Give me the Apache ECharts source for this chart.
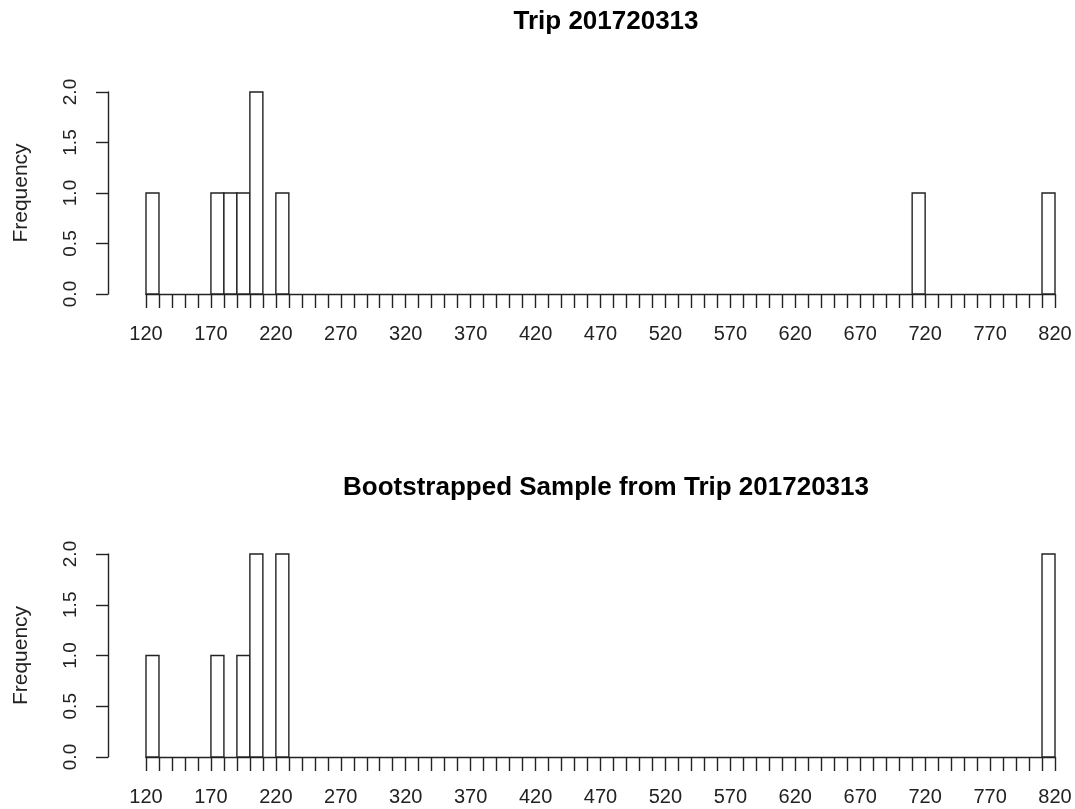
<!DOCTYPE html>
<html>
<head>
<meta charset="utf-8">
<style>
  html, body { margin: 0; padding: 0; background: #fff; }
  #chart { width: 1075px; height: 809px; }
</style>
<script src="https://cdn.jsdelivr.net/npm/echarts@6/dist/echarts.min.js"></script>
</head>
<body>
<div id="chart"></div>
<script>
// bins are 10 wide, only non-empty ones listed (start of bin)
const binWidth = 10;
const tripBins = [120, 170, 180, 190, 200, 220, 710, 810];
const tripCounts = [1, 1, 1, 1, 2, 1, 1, 1];
const bootBins = [120, 170, 190, 200, 220, 810];
const bootCounts = [1, 1, 1, 2, 2, 2];
const titles = ["Trip 201720313", "Bootstrapped Sample from Trip 201720313"];

const font = "Liberation Sans, Arial, sans-serif";
const ink = "#222";

function toData(bins, counts) {
  return bins.map((b, i) => [b, counts[i]]);
}

function renderBar(params, api) {
  const lo = api.value(0);
  const n = api.value(1);
  const p0 = api.coord([lo, n]);
  const p1 = api.coord([lo + binWidth, 0]);
  return {
    type: "rect",
    shape: { x: p0[0], y: p0[1], width: p1[0] - p0[0], height: p1[1] - p0[1] },
    style: { fill: "#fff", stroke: ink, lineWidth: 1.4 },
  };
}

function xAxis(gridIndex) {
  return {
    type: "value",
    gridIndex: gridIndex,
    min: 120,
    max: 820,
    interval: 10,
    axisLine: { show: true, lineStyle: { color: ink, width: 1.4 } },
    axisTick: { show: true, length: 14, lineStyle: { color: ink, width: 1.4 } },
    axisLabel: {
      margin: 30,
      color: "#222",
      fontSize: 20,
      fontFamily: font,
      formatter: (v) => ((v - 120) % 50 === 0 ? String(v) : ""),
    },
    splitLine: { show: false },
  };
}

function yAxis(gridIndex) {
  return {
    type: "value",
    gridIndex: gridIndex,
    min: 0,
    max: 2,
    interval: 0.5,
    offset: 38,
    name: "Frequency",
    nameLocation: "middle",
    nameRotate: 90,
    nameGap: 76,
    nameTextStyle: { color: "#222", fontSize: 21, fontFamily: font },
    axisLine: { show: true, lineStyle: { color: ink, width: 1.4 } },
    axisTick: { show: true, length: 12, lineStyle: { color: ink, width: 1.4 } },
    axisLabel: {
      rotate: 90,
      margin: 28,
      color: "#222",
      fontSize: 19,
      fontFamily: font,
      formatter: (v) => v.toFixed(1),
    },
    splitLine: { show: false },
  };
}

const chart = echarts.init(document.getElementById("chart"));
chart.setOption({
  backgroundColor: "#fff",
  animation: false,
  title: [
    {
      text: titles[0],
      left: 601,
      top: 4,
      textAlign: "center",
      textStyle: { fontSize: 26, fontWeight: "bold", color: "#000", fontFamily: font },
    },
    {
      text: titles[1],
      left: 601,
      top: 470,
      textAlign: "center",
      textStyle: { fontSize: 26, fontWeight: "bold", color: "#000", fontFamily: font },
    },
  ],
  grid: [
    { left: 146, right: 20, top: 92, height: 202 },
    { left: 146, right: 20, top: 554, height: 203 },
  ],
  xAxis: [xAxis(0), xAxis(1)],
  yAxis: [yAxis(0), yAxis(1)],
  series: [
    {
      type: "custom",
      xAxisIndex: 0,
      yAxisIndex: 0,
      renderItem: renderBar,
      data: toData(tripBins, tripCounts),
    },
    {
      type: "custom",
      xAxisIndex: 1,
      yAxisIndex: 1,
      renderItem: renderBar,
      data: toData(bootBins, bootCounts),
    },
  ],
});
</script>
</body>
</html>
